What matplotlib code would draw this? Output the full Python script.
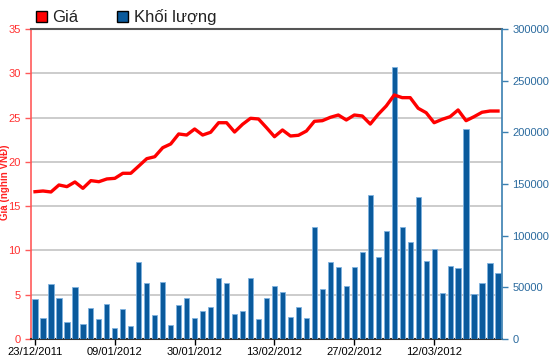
import matplotlib.pyplot as plt
from matplotlib.patches import Patch
import numpy as np

plt.rcParams['font.family'] = ['Liberation Sans', 'DejaVu Sans']

# price (thousand VND) and volume per trading day, 23/12/2011 - 22/03/2012
price = [16.63, 16.71, 16.60, 17.39, 17.20, 17.73, 17.01, 17.88, 17.76, 18.07,
         18.14, 18.71, 18.71, 19.53, 20.36, 20.58, 21.60, 22.02, 23.15, 23.03,
         23.71, 23.03, 23.34, 24.42, 24.42, 23.37, 24.24, 24.92, 24.84, 23.86,
         22.84, 23.60, 22.92, 23.00, 23.48, 24.58, 24.65, 25.03, 25.29, 24.73,
         25.29, 25.18, 24.27, 25.37, 26.31, 27.55, 27.25, 27.25, 26.05, 25.55,
         24.42, 24.80, 25.10, 25.86, 24.65, 25.10, 25.60, 25.74, 25.74]
volume = [38700, 20600, 52900, 40000, 16800, 50600, 14200, 30300, 19400, 33900,
          10900, 29000, 12300, 74800, 53900, 22900, 55500, 13200, 32600, 40000,
          20300, 27400, 31300, 58700, 53900, 23900, 27400, 58700, 19000, 40000,
          51600, 45800, 21600, 31300, 20300, 108100, 48400, 74800, 69700, 51600,
          69700, 84500, 139400, 79600, 104500, 263500, 108100, 93900, 137100, 75800,
          86800, 44200, 70900, 68400, 203500, 43200, 53900, 73800, 63600]
tick_pos = [0, 10, 20, 30, 40, 50]
tick_labels = ['23/12/2011', '09/01/2012', '30/01/2012', '13/02/2012', '27/02/2012', '12/03/2012']

red = '#ff0000'
red_axis = '#ff5a5a'
blue = '#0a5a9c'
blue_axis = '#3a7fb0'

x = np.arange(len(price))

fig = plt.figure(figsize=(5.5, 3.64), dpi=100)
ax = fig.add_axes([0.0564, 0.0687, 0.8563, 0.8516])

# price axis (left) with grid
ax.set_xlim(-0.5, len(price) - 0.5)
ax.set_ylim(0, 35)
ax.set_yticks(np.arange(0, 36, 5))
ax.yaxis.grid(True, color='#c8c8c8', linewidth=1.3)
ax.set_axisbelow(True)
ax.tick_params(axis='y', colors=red_axis, labelcolor='#ff3030', labelsize=8, length=4, width=1)
ax.set_xticks(tick_pos)
ax.set_xticklabels(tick_labels)
ax.tick_params(axis='x', colors='black', labelsize=8, length=4, width=1, pad=2)
ax.spines['left'].set_color(red_axis)
ax.spines['left'].set_linewidth(1.2)
ax.spines['right'].set_visible(False)
ax.spines['top'].set_color('#555555')
ax.spines['top'].set_linewidth(1.5)
ax.spines['bottom'].set_color('#333333')
ax.spines['bottom'].set_linewidth(1.5)

# volume axis (right)
ax2 = ax.twinx()
ax2.bar(x, volume, width=0.65, color=blue, edgecolor='#7fb2e0', linewidth=0.6)
ax2.set_ylim(0, 300000)
ax2.set_yticks(np.arange(0, 300001, 50000))
ax2.tick_params(axis='y', colors=blue_axis, labelcolor='#2a6a9e', labelsize=8, length=4, width=1)
ax2.spines['right'].set_color(blue_axis)
ax2.spines['right'].set_linewidth(1.2)
for s in ['left', 'top', 'bottom']:
    ax2.spines[s].set_visible(False)

# price line on top
ax3 = ax.twinx()
ax3.set_ylim(ax.get_ylim())
ax3.plot(x, price, color=red, linewidth=2.4, solid_joinstyle='round')
ax3.axis('off')

handles = [Patch(facecolor='#ff0000', edgecolor='black', linewidth=1),
           Patch(facecolor='#0a5a9c', edgecolor='black', linewidth=1)]
fig.legend(handles, ['Giá', 'Khối lượng'], loc='center left', bbox_to_anchor=(0.05, 0.952),
           ncol=2, frameon=False, fontsize=12, handlelength=0.65, handleheight=0.65,
           handletextpad=0.35, columnspacing=2.3, labelcolor='#222222', borderpad=0)

fig.text(0.0085, 0.5, 'Giá (nghìn VNĐ)', rotation=90, color='#ff2020', fontsize=7,
         fontweight='bold', ha='center', va='center')

fig.savefig('out.png', dpi=100)
